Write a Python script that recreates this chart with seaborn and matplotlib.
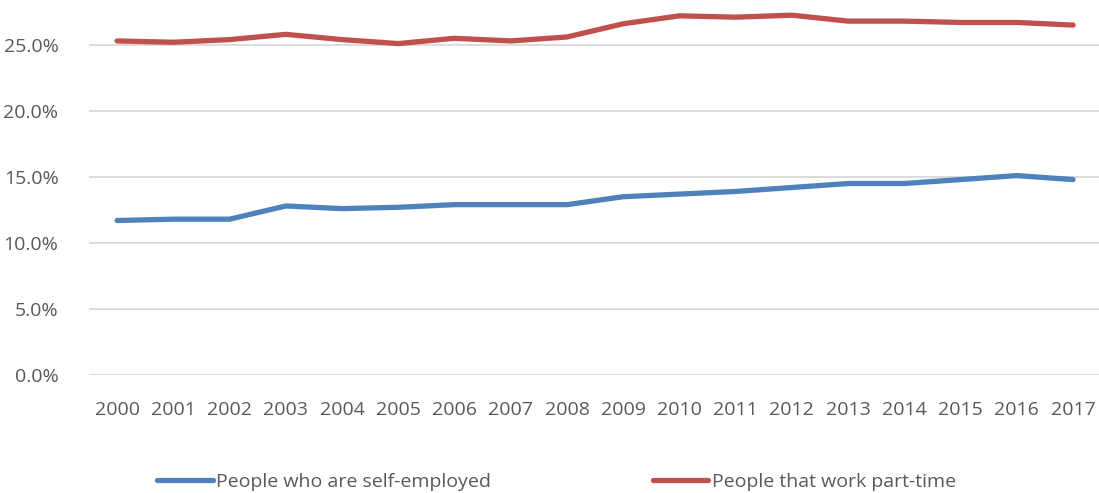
import matplotlib
matplotlib.use("Agg")
import matplotlib.pyplot as plt
import seaborn as sns
import pandas as pd
from matplotlib.ticker import FuncFormatter, MultipleLocator
from matplotlib.lines import Line2D

years = list(range(2000, 2018))
self_employed = [11.7, 11.8, 11.8, 12.8, 12.6, 12.7, 12.9, 12.9, 12.9, 13.5, 13.7, 13.9, 14.2, 14.5, 14.5, 14.8, 15.1, 14.8]
part_time = [25.3, 25.2, 25.4, 25.8, 25.4, 25.1, 25.5, 25.3, 25.6, 26.6, 27.2, 27.1, 27.25, 26.8, 26.8, 26.7, 26.7, 26.5]
series_names = ["People who are self-employed", "People that work part-time"]
colors = ["#4F81BD", "#C0504D"]

df = pd.DataFrame({
    "year": years * 2,
    "value": self_employed + part_time,
    "series": [series_names[0]] * len(years) + [series_names[1]] * len(years),
})

sns.set_theme(style="white")
plt.rcParams['font.family'] = ['Open Sans', 'DejaVu Sans']
text_color = "#595959"
fs = 14

fig = plt.figure(figsize=(10.99, 4.93), dpi=100)
ax = fig.add_axes([0.081, 0.2394, 0.921, 0.7606])

sns.lineplot(data=df, x="year", y="value", hue="series", palette=colors,
             linewidth=3.8, ax=ax, legend=False, solid_capstyle="round")

ax.set_xlim(1999.5, 2017.5)
ax.set_ylim(0, 28.4)
ax.yaxis.set_major_locator(MultipleLocator(5))
ax.yaxis.set_major_formatter(FuncFormatter(lambda v, p: f"{v:.1f}%"))
ax.set_xticks(years)
ax.set_xticklabels([str(y) for y in years])
ax.grid(axis="y", color="#D9D9D9", linewidth=1.3)
ax.set_axisbelow(True)
for s in ax.spines.values():
    s.set_visible(False)
ax.tick_params(axis="both", length=0, labelsize=fs, colors=text_color)
ax.tick_params(axis="y", pad=22)
ax.tick_params(axis="x", pad=19)
ax.set_xlabel("")
ax.set_ylabel("")

anchors = [0.143, 0.594]
for c, name, xa in zip(colors, series_names, anchors):
    h = Line2D([0], [0], color=c, linewidth=3.8, solid_capstyle="round")
    leg = fig.legend([h], [name], loc="center left", bbox_to_anchor=(xa, 0.023),
                     frameon=False, fontsize=fs, handlelength=2.85,
                     handletextpad=0.2, borderaxespad=0, borderpad=0)
    for t in leg.get_texts():
        t.set_color(text_color)

fig.savefig("out.png", dpi=100, facecolor="white")
